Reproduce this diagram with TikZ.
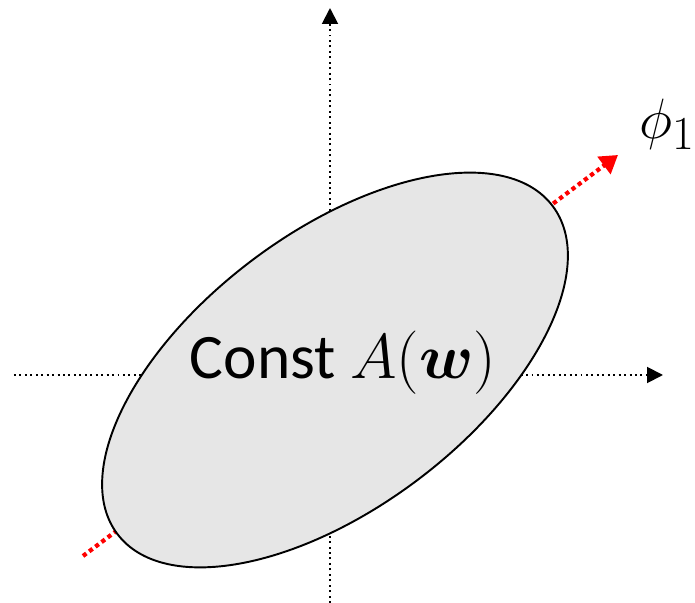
\documentclass[tikz,border=0pt]{standalone}
\usepackage{fontspec}
\usepackage{bm}
\setmainfont{Carlito}
\usetikzlibrary{shapes.geometric,arrows.meta}
\definecolor{blobgray}{HTML}{E6E6E6}
\begin{document}
\begin{tikzpicture}[
      axis/.style={dotted, line width=1.1pt, -{Triangle[length=9pt,width=9pt]}},
      pcline/.style={red, dotted, line width=2.4pt, -{Triangle[length=10pt,width=12pt]}},
      blob/.style={ellipse, draw, line width=1.1pt, fill=blobgray, minimum width=10.9cm, minimum height=5.5cm, inner sep=0pt, rotate=37},
      bigtext/.style={font=\Huge, inner sep=0pt}]
      \useasboundingbox (0,0) rectangle (13.9,12.06);
      \coordinate (xl) at (0.28,4.56);
      \coordinate (xr) at (13.26,4.56);
      \coordinate (yb) at (6.6,0);
      \coordinate (yt) at (6.6,11.9);
      \coordinate (pcs) at (1.66,0.94);
      \coordinate (pce) at (12.36,8.96);
      \draw[axis] (xl) -- (xr);
      \draw[axis] (yb) -- (yt);
      \draw[pcline] (pcs) -- (pce);
      \node[blob] (level) at (6.7,4.66) {};
      \node[bigtext, scale=1.45] (lbl) at (6.86,4.8) {Const $A(\bm{w})$};
      \node[bigtext, scale=1.3] (phi) at (13.34,9.58) {$\phi_1$};
    \end{tikzpicture}
\end{document}
